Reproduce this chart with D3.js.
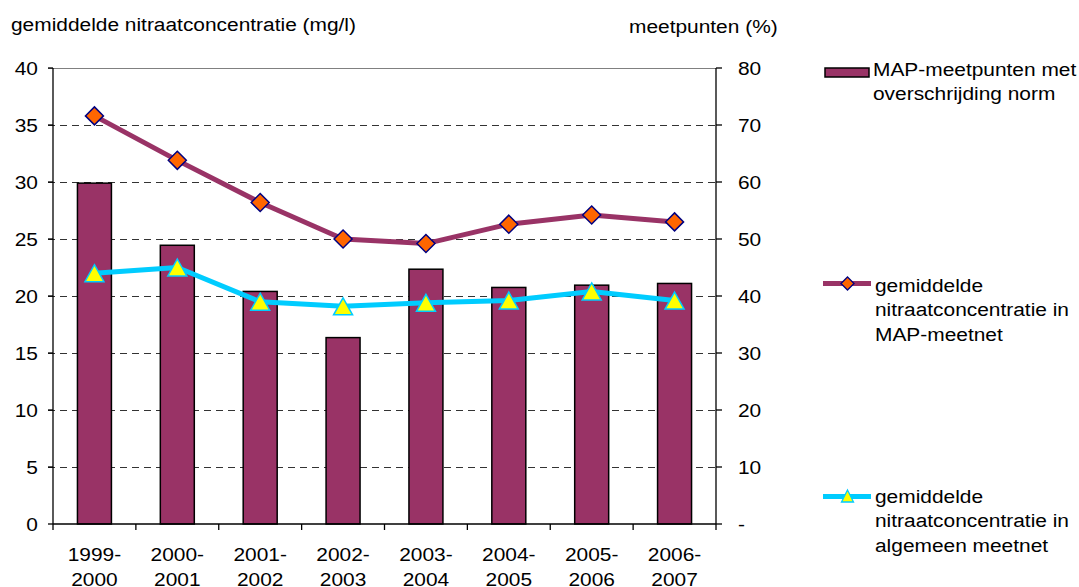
<!DOCTYPE html>
<html>
<head>
<meta charset="utf-8">
<script src="https://cdn.jsdelivr.net/npm/d3@7"></script>
<style>
  html, body { margin: 0; padding: 0; background: #fff; }
  svg { display: block; font-family: "Liberation Sans", Arial, sans-serif; }
</style>
</head>
<body>
<svg id="chart" width="1079" height="587"></svg>
<script>
// Seasons (winter years) on the category axis
const categories = ["1999-2000", "2000-2001", "2001-2002", "2002-2003",
                    "2003-2004", "2004-2005", "2005-2006", "2006-2007"];
// Share of MAP monitoring points exceeding the norm (%), right axis
const mapExceedPct = [59.8, 48.9, 40.8, 32.7, 44.7, 41.5, 41.9, 42.2];
// Mean nitrate concentration in the MAP network (mg/l), left axis
const mapMeanConc = [35.8, 31.9, 28.2, 25.0, 24.6, 26.3, 27.1, 26.5];
// Mean nitrate concentration in the general network (mg/l), left axis
const genMeanConc = [22.0, 22.5, 19.5, 19.1, 19.4, 19.6, 20.4, 19.6];
// Axis ticks
const leftTicks = [0, 5, 10, 15, 20, 25, 30, 35, 40];
const rightTicks = [0, 10, 20, 30, 40, 50, 60, 70, 80];

const legendLabels = [
  ["MAP-meetpunten met", "overschrijding norm"],
  ["gemiddelde", "nitraatconcentratie in", "MAP-meetnet"],
  ["gemiddelde", "nitraatconcentratie in", "algemeen meetnet"]
];

const COL_BAR = "#993366", COL_MAP = "#993366", COL_GEN = "#00CCFF";
const FS = 19, SX = 1.1;   // font size and horizontal text stretch

const svg = d3.select("#chart");
const plot = { left: 53, right: 716, top: 68, bottom: 524 };

const x = d3.scaleBand().domain(categories).range([plot.left, plot.right]).padding(0);
const yL = d3.scaleLinear().domain([0, 40]).range([plot.bottom, plot.top]);
const yR = d3.scaleLinear().domain([0, 80]).range([plot.bottom, plot.top]);
const cx = c => x(c) + x.bandwidth() / 2;
const px = v => Math.round(v) + 0.5;   // pixel-aligned 1px strokes

function txt(parent, tx, ty, s, anchor) {
  return parent.append("text")
    .attr("transform", `translate(${tx},${ty}) scale(${SX},1)`)
    .attr("text-anchor", anchor || "start")
    .attr("font-size", FS)
    .attr("fill", "#000")
    .text(s);
}

// Gridlines
const grid = svg.append("g");
grid.selectAll("line.g").data(leftTicks.filter(t => t > 0 && t < 40)).join("line")
  .attr("x1", plot.left - 5).attr("x2", plot.right)
  .attr("y1", d => px(yL(d))).attr("y2", d => px(yL(d)))
  .attr("stroke", "#333").attr("stroke-width", 1)
  .attr("stroke-dasharray", "7,5");
grid.append("line")
  .attr("x1", plot.left - 5).attr("x2", plot.right)
  .attr("y1", px(yL(40))).attr("y2", px(yL(40)))
  .attr("stroke", "#808080").attr("stroke-width", 1);

// Bars: share of MAP points exceeding the norm
const bw = x.bandwidth() * 0.41;
svg.append("g").selectAll("rect").data(categories).join("rect")
  .attr("x", d => cx(d) - bw / 2)
  .attr("width", bw)
  .attr("y", (d, i) => yR(mapExceedPct[i]))
  .attr("height", (d, i) => yR(0) - yR(mapExceedPct[i]))
  .attr("fill", COL_BAR).attr("stroke", "#000").attr("stroke-width", 1.5);

// Axes
const axes = svg.append("g").attr("stroke", "#000").attr("stroke-width", 1.3);
axes.append("line").attr("x1", plot.left).attr("x2", plot.left).attr("y1", plot.top).attr("y2", plot.bottom);
axes.append("line").attr("x1", plot.right).attr("x2", plot.right).attr("y1", plot.top).attr("y2", plot.bottom);
axes.append("line").attr("x1", plot.left).attr("x2", plot.right).attr("y1", plot.bottom).attr("y2", plot.bottom);
axes.selectAll("line.lt").data(leftTicks).join("line")
  .attr("x1", plot.left - 5).attr("x2", plot.left).attr("y1", d => yL(d)).attr("y2", d => yL(d));
axes.selectAll("line.rt").data(rightTicks).join("line")
  .attr("x1", plot.right).attr("x2", plot.right + 6).attr("y1", d => yR(d)).attr("y2", d => yR(d));
const xTickPos = categories.map(c => x(c)).concat([plot.right]);
axes.selectAll("line.xt").data(xTickPos).join("line")
  .attr("x1", d => d).attr("x2", d => d).attr("y1", plot.bottom).attr("y2", plot.bottom + 6);

// Tick labels
const labels = svg.append("g");
leftTicks.forEach(t => txt(labels, 38, yL(t) + 6.8, String(t), "end"));
rightTicks.forEach(t => txt(labels, 738, yR(t) + 6.8, t === 0 ? "-" : String(t), "start"));
categories.forEach(c => {
  const [a, b] = c.split("-");
  txt(labels, cx(c), 561, a + "-", "middle");
  txt(labels, cx(c), 586, b, "middle");
});

// Axis titles
txt(svg, 11, 31, "gemiddelde nitraatconcentratie (mg/l)");
txt(svg, 629, 33, "meetpunten (%)");

// Lines
const lineL = d3.line().x((d, i) => cx(categories[i])).y(d => yL(d));
svg.append("path").datum(mapMeanConc).attr("d", lineL)
  .attr("fill", "none").attr("stroke", COL_MAP).attr("stroke-width", 5).attr("stroke-linejoin", "round");
svg.append("path").datum(genMeanConc).attr("d", lineL)
  .attr("fill", "none").attr("stroke", COL_GEN).attr("stroke-width", 5).attr("stroke-linejoin", "round");

const diamond = r => `M0,${-r}L${r},0L0,${r}L${-r},0Z`;
const triangle = (w, h) => `M0,${-h / 2}L${w / 2},${h / 2}L${-w / 2},${h / 2}Z`;

svg.append("g").selectAll("path").data(mapMeanConc).join("path")
  .attr("d", diamond(9))
  .attr("transform", (d, i) => `translate(${cx(categories[i])},${yL(d)})`)
  .attr("fill", "#FF6600").attr("stroke", "#000080").attr("stroke-width", 1.5);
svg.append("g").selectAll("path").data(genMeanConc).join("path")
  .attr("d", triangle(19, 17))
  .attr("transform", (d, i) => `translate(${cx(categories[i])},${yL(d)})`)
  .attr("fill", "#FFFF00").attr("stroke", COL_GEN).attr("stroke-width", 1.5);

// Legend
const lg = svg.append("g");
lg.append("rect").attr("x", 825).attr("y", 68).attr("width", 44).attr("height", 9)
  .attr("fill", COL_BAR).attr("stroke", "#000").attr("stroke-width", 1.5);
legendLabels[0].forEach((s, i) => txt(lg, 873, 75.5 + i * 24.5, s));

lg.append("line").attr("x1", 823).attr("x2", 871).attr("y1", 283.5).attr("y2", 283.5)
  .attr("stroke", COL_MAP).attr("stroke-width", 5);
lg.append("path").attr("d", diamond(6.5)).attr("transform", "translate(847.5,283.5)")
  .attr("fill", "#FF6600").attr("stroke", "#000080").attr("stroke-width", 1.3);
legendLabels[1].forEach((s, i) => txt(lg, 875, 291.5 + i * 24.5, s));

lg.append("line").attr("x1", 823).attr("x2", 871).attr("y1", 496.5).attr("y2", 496.5)
  .attr("stroke", COL_GEN).attr("stroke-width", 5);
lg.append("path").attr("d", triangle(12, 12)).attr("transform", "translate(847.5,496)")
  .attr("fill", "#FFFF00").attr("stroke", COL_GEN).attr("stroke-width", 1.3);
legendLabels[2].forEach((s, i) => txt(lg, 875, 502.5 + i * 24.5, s));
</script>
</body>
</html>
